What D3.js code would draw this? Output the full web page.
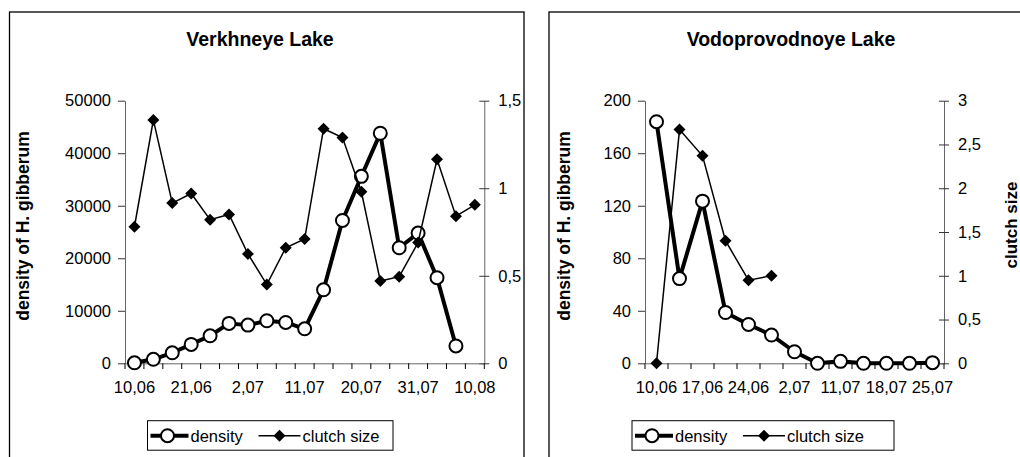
<!DOCTYPE html>
<html>
<head>
<meta charset="utf-8">
<script src="https://cdn.jsdelivr.net/npm/d3@7"></script>
<style>
  body { margin: 0; background: #fff; }
  text { font-family: "Liberation Sans", Arial, sans-serif; fill: #000; }
</style>
</head>
<body>
<script>
// Verkhneye Lake
var verkhDates = ["10,06","14,06","17,06","21,06","24,06","28,06","2,07","5,07","8,07","11,07",
                  "14,07","17,07","20,07","24,07","27,07","31,07","3,08","7,08","10,08"];
var verkhShown = ["10,06","21,06","2,07","11,07","20,07","31,07","10,08"];
var verkhDensity = [100, 760, 2000, 3600, 5240, 7600, 7270, 8100, 7780, 6570,
                    14000, 27200, 35600, 43800, 22000, 24800, 16300, 3300];
var verkhClutch = [0.78, 1.39, 0.915, 0.97, 0.82, 0.85, 0.625, 0.45, 0.66, 0.71,
                   1.34, 1.29, 0.98, 0.47, 0.495, 0.69, 1.165, 0.84, 0.905];
var verkhDensTicks = [0, 10000, 20000, 30000, 40000, 50000];
var verkhClutchTicks = [0, 0.5, 1, 1.5];

// Vodoprovodnoye Lake
var vodoDates = ["10,06","14,06","17,06","21,06","24,06","28,06","2,07","7,07","11,07","14,07",
                 "18,07","21,07","25,07"];
var vodoShown = ["10,06","17,06","24,06","2,07","11,07","18,07","25,07"];
var vodoDensity = [184, 64.5, 123.5, 38.7, 29.6, 21.5, 8.8, 0, 1.5, 0, 0, 0, 0.5];
var vodoClutch = [0, 2.67, 2.37, 1.4, 0.95, 1.0];
var vodoDensTicks = [0, 40, 80, 120, 160, 200];
var vodoClutchTicks = [0, 0.5, 1, 1.5, 2, 2.5, 3];

var w = 1020, h = 457;

var svg = d3.select("body").append("svg")
    .attr("width", w)
    .attr("height", h);

var comma = function(d) { return String(d).replace(".", ","); };

function drawChart(o) {
    var g = svg.append("g");

    // frame (bottom edge, and the right one of the second chart, run off the picture)
    g.append("rect")
        .attr("x", o.frame[0]).attr("y", 12)
        .attr("width", o.frame[1] - o.frame[0]).attr("height", 470)
        .attr("fill", "#fff").attr("stroke", "#000").attr("stroke-width", 1.3);

    var x = d3.scaleBand().domain(o.dates).range([o.left, o.right]).padding(0);
    var y = d3.scaleLinear().domain([0, d3.max(o.densTicks)]).range([363.3, 100.7]);
    var y2 = d3.scaleLinear().domain([0, d3.max(o.clutchTicks)]).range([363.3, 100.7]);
    var cx = function(i) { return x(o.dates[i]) + x.bandwidth() / 2; };

    // title
    g.append("text")
        .attr("x", o.titleX).attr("y", 46)
        .attr("text-anchor", "middle")
        .attr("font-size", "19.5px").attr("font-weight", "bold")
        .text(o.title);

    // left axis
    var ax = g.append("g")
        .attr("transform", "translate(" + o.left + ",0)")
        .call(d3.axisLeft(y).tickValues(o.densTicks).tickSize(7).tickSizeOuter(0).tickPadding(7).tickFormat(d3.format("d")));
    ax.selectAll("text").attr("font-size", "16.5px").attr("font-family", null);

    // right axis, ticks cross the line
    var ar = g.append("g")
        .attr("transform", "translate(" + o.right + ",0)")
        .call(d3.axisRight(y2).tickValues(o.clutchTicks).tickSize(5).tickSizeOuter(0).tickPadding(9).tickFormat(comma));
    ar.selectAll(".tick line").attr("x1", -5);
    ar.selectAll("text").attr("font-size", "16.5px").attr("font-family", null);

    // bottom axis: labels only on every few categories
    var ab = g.append("g")
        .attr("transform", "translate(0,363.3)")
        .call(d3.axisBottom(x).tickValues(o.shown).tickSize(0).tickSizeOuter(0).tickPadding(18));
    ab.selectAll("text").attr("font-size", "16.5px").attr("font-family", null);

    // boundary tick marks between categories
    var bounds = o.dates.map(function(d) { return x(d); }).concat([o.right]);
    g.append("g").selectAll("line")
        .data(bounds).enter().append("line")
        .attr("x1", function(d) { return d; }).attr("x2", function(d) { return d; })
        .attr("y1", 363.3).attr("y2", 369)
        .attr("stroke", "#000");

    [ax, ar, ab].forEach(function(a) {
        a.select(".domain").attr("stroke", "#666");
        a.selectAll(".tick line").attr("stroke", "#333");
    });

    // density series
    var dLine = d3.line().x(function(d, i) { return cx(i); }).y(function(d) { return y(d); });
    g.append("path")
        .datum(o.density)
        .attr("d", dLine)
        .attr("fill", "none").attr("stroke", "#000").attr("stroke-width", 4)
        .attr("stroke-linejoin", "round");
    g.selectAll(".dens").data(o.density).enter().append("circle")
        .attr("class", "dens")
        .attr("cx", function(d, i) { return cx(i); })
        .attr("cy", function(d) { return y(d); })
        .attr("r", 6.5)
        .attr("fill", "#fff").attr("stroke", "#000").attr("stroke-width", 2);

    // clutch size series
    var cLine = d3.line().x(function(d, i) { return cx(i); }).y(function(d) { return y2(d); });
    g.append("path")
        .datum(o.clutch)
        .attr("d", cLine)
        .attr("fill", "none").attr("stroke", "#000").attr("stroke-width", 1.5);
    var diamond = d3.symbol().type(d3.symbolSquare).size(72);
    g.selectAll(".clu").data(o.clutch).enter().append("path")
        .attr("class", "clu")
        .attr("d", diamond)
        .attr("transform", function(d, i) { return "translate(" + cx(i) + "," + y2(d) + ") rotate(45)"; })
        .attr("fill", "#000");

    // axis titles
    g.append("text")
        .attr("transform", "translate(" + o.yTitleX + ",226) rotate(-90)")
        .attr("text-anchor", "middle")
        .attr("font-size", "17.5px").attr("font-weight", "bold")
        .text("density of H. gibberum");
    if (o.y2Title) {
        g.append("text")
            .attr("transform", "translate(" + o.y2TitleX + ",225) rotate(-90)")
            .attr("text-anchor", "middle")
            .attr("font-size", "17px").attr("font-weight", "bold")
            .text(o.y2Title);
    }

    // legend
    var lg = g.append("g").attr("transform", "translate(" + o.legend[0] + ",420.7)");
    lg.append("rect")
        .attr("width", o.legend[1]).attr("height", 29.5)
        .attr("fill", "#fff").attr("stroke", "#000").attr("stroke-width", 1);
    lg.append("line").attr("x1", 3).attr("x2", 41).attr("y1", 15).attr("y2", 15)
        .attr("stroke", "#000").attr("stroke-width", 4);
    lg.append("circle").attr("cx", 20).attr("cy", 15).attr("r", 6.5)
        .attr("fill", "#fff").attr("stroke", "#000").attr("stroke-width", 2);
    lg.append("text").attr("x", 43).attr("y", 21).attr("font-size", "16.5px").text("density");
    lg.append("line").attr("x1", 111).attr("x2", 153).attr("y1", 15).attr("y2", 15)
        .attr("stroke", "#000").attr("stroke-width", 1.5);
    lg.append("path").attr("d", diamond)
        .attr("transform", "translate(132,15) rotate(45)").attr("fill", "#000");
    lg.append("text").attr("x", 155).attr("y", 21).attr("font-size", "16.5px").text("clutch size");
}

drawChart({
    title: "Verkhneye Lake", titleX: 260,
    frame: [9.5, 524],
    left: 125, right: 484.3,
    dates: verkhDates, shown: verkhShown,
    density: verkhDensity, clutch: verkhClutch,
    densTicks: verkhDensTicks, clutchTicks: verkhClutchTicks,
    yTitleX: 29,
    legend: [147.5, 245.5]
});

drawChart({
    title: "Vodoprovodnoye Lake", titleX: 791,
    frame: [549, 1030],
    left: 645, right: 944,
    dates: vodoDates, shown: vodoShown,
    density: vodoDensity, clutch: vodoClutch,
    densTicks: vodoDensTicks, clutchTicks: vodoClutchTicks,
    yTitleX: 570,
    y2Title: "clutch size", y2TitleX: 1017,
    legend: [632, 262]
});
</script>
</body>
</html>
